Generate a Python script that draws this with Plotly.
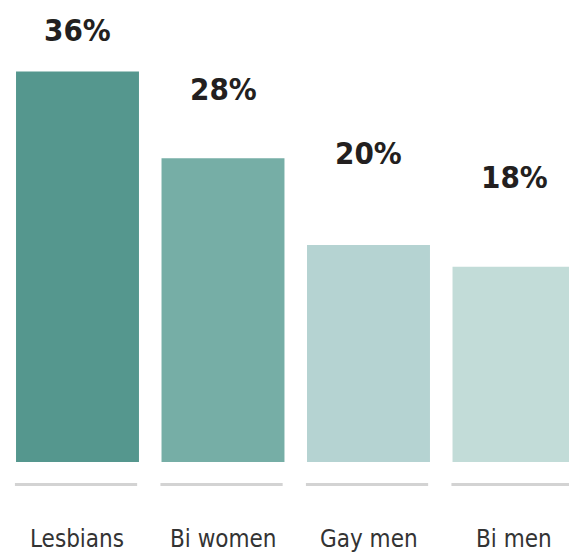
import plotly.graph_objects as go

categories = ["Lesbians", "Bi women", "Gay men", "Bi men"]
values = [36, 28, 20, 18]
value_labels = ["36%", "28%", "20%", "18%"]
colors = ["#55978e", "#76aea6", "#b5d3d2", "#c2dcd8"]
label_shift = [41, 69, 92, 90]  # px above bar top (style)

FONT = "Liberation Sans Narrow, DejaVu Sans Condensed, sans-serif"

fig = go.Figure()
fig.add_trace(go.Bar(
    x=list(range(len(categories))), y=values,
    marker=dict(color=colors, line=dict(width=0)),
    width=0.845, hoverinfo="skip",
))

for i, (v, lab, s) in enumerate(zip(values, value_labels, label_shift)):
    fig.add_annotation(x=i, y=v, text=f"<b>{lab}</b>", showarrow=False,
                       yanchor="middle", xanchor="center", yshift=s,
                       font=dict(family=FONT, size=31, color="#231f20"))
    fig.add_annotation(x=i, y=-7.1, text=categories[i], showarrow=False,
                       yanchor="middle", xanchor="center",
                       font=dict(family=FONT, size=24, color="#333333"))
    fig.add_shape(type="line", x0=i - 0.43, x1=i + 0.41, y0=-2.07, y1=-2.07,
                  xref="x", yref="y", line=dict(color="#d3d3d3", width=3))

fig.update_layout(
    width=569, height=554,
    margin=dict(l=0, r=0, t=0, b=0),
    paper_bgcolor="white", plot_bgcolor="white",
    showlegend=False,
    xaxis=dict(range=[-0.5326, 3.378], visible=False, fixedrange=True),
    yaxis=dict(range=[-8.48, 42.58], visible=False, fixedrange=True),
)

fig.write_html("out.html",
               config={"displayModeBar": False, "staticPlot": True},
               post_script="document.body.style.margin='0';document.body.style.overflow='hidden';")
